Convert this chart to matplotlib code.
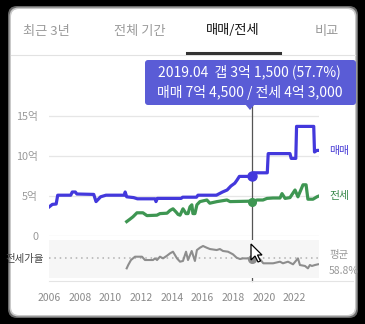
import matplotlib.pyplot as plt
from matplotlib.patches import FancyBboxPatch, Polygon
from matplotlib.lines import Line2D
from matplotlib.transforms import IdentityTransform

plt.rcParams['font.family'] = ['Noto Sans CJK KR', 'DejaVu Sans']

# 매매가 (억)
sale_t = [2006.0, 2006.2, 2006.45, 2006.55, 2007.4, 2007.5, 2007.7, 2007.8, 2008.9, 2009.05,
          2009.35, 2009.7, 2010.9, 2010.95, 2011.05, 2011.5, 2011.75, 2012.9, 2012.96, 2013.05,
          2014.6, 2014.7, 2015.6, 2015.7, 2016.9, 2017.3, 2017.6, 2017.85, 2018.1, 2018.25,
          2018.4, 2019.25, 2019.35, 2020.22, 2020.28, 2021.7, 2021.78, 2022.08, 2022.13, 2023.25,
          2023.3, 2023.45, 2023.58]
sale_v = [3.65, 3.95, 4.0, 5.1, 5.1, 5.5, 5.5, 5.25, 5.2, 4.3,
          4.9, 5.1, 5.1, 5.5, 4.9, 4.8, 4.65, 4.65, 4.3, 4.7,
          4.7, 4.85, 4.85, 5.1, 5.1, 5.5, 5.75, 6.25, 6.6, 7.0,
          7.45, 7.45, 7.9, 7.9, 10.3, 10.3, 9.7, 9.7, 13.7, 13.7,
          10.5, 10.7, 10.7]

# 전세가 (억)
jeonse_t = [2011.05, 2011.26, 2011.46, 2011.72, 2012.11, 2012.37, 2013.02, 2013.22, 2013.68, 2013.88,
            2014.07, 2014.27, 2014.4, 2014.53, 2014.72, 2014.92, 2015.05, 2015.18, 2015.3, 2015.37,
            2015.5, 2015.63, 2015.83, 2016.28, 2016.47, 2016.94, 2017.59, 2017.79, 2019.09, 2019.25,
            2019.55, 2019.94, 2020.2, 2020.59, 2021.05, 2021.18, 2021.38, 2021.7, 2022.03, 2022.22,
            2022.55, 2022.75, 2022.87, 2023.2, 2023.46, 2023.59]
jeonse_v = [1.8, 2.1, 2.4, 2.9, 2.9, 2.55, 2.6, 2.8, 2.85, 3.2,
            3.4, 3.0, 2.7, 2.6, 3.4, 2.8, 2.8, 3.65, 3.9, 2.8,
            2.8, 3.9, 4.3, 4.5, 4.1, 4.3, 4.5, 4.3, 4.35, 4.3,
            4.5, 4.5, 4.7, 4.75, 4.75, 5.3, 4.7, 4.8, 5.75, 4.9,
            6.4, 6.4, 4.6, 4.6, 4.9, 5.0]

# 전세가율 (%)
ratio_t = [2011.05, 2011.15, 2011.33, 2011.59, 2012.05, 2012.24, 2012.77, 2012.9, 2013.03, 2013.22,
           2013.42, 2013.68, 2013.88, 2014.07, 2014.33, 2014.53, 2014.72, 2014.92, 2015.05, 2015.29,
           2015.5, 2015.63, 2015.83, 2016.03, 2016.27, 2016.48, 2016.92, 2017.13, 2017.33, 2017.66,
           2017.98, 2018.22, 2018.44, 2018.64, 2019.25, 2019.74, 2019.96, 2020.6, 2021.05, 2021.24,
           2021.57, 2021.9, 2022.22, 2022.35, 2022.68, 2022.87, 2023.0, 2023.13, 2023.33, 2023.53]
ratio_v = [37, 44, 54.5, 61.5, 61.5, 54.5, 54.5, 58, 54.5, 61.5,
           58, 63.6, 68.6, 72, 58, 51, 52.5, 72, 54.5, 73.5,
           52.5, 75.5, 80.4, 84, 80.4, 77.6, 75.5, 77.6, 73.5, 72,
           66.5, 59.4, 56.6, 58, 57.7, 56.6, 47.6, 47.6, 51, 47.6,
           51, 45.5, 58, 44, 42, 37, 44, 42, 44, 45.5]
ratio_avg = 58.8

cursor_t = 2019.25
cursor_label = '2019.04'
cursor_sale = 7.45
cursor_jeonse = 4.3
cursor_ratio = 57.7

tabs = ['최근 3년', '전체 기간', '매매/전세', '비교']
active_tab = 2
year_ticks = list(range(2006, 2023, 2))
price_ticks = [0, 5, 10, 15]
price_labels = ['0', '5억', '10억', '15억']

BLUE = '#4338dc'
GREEN = '#3e9652'
GRAY = '#8d8d8d'

W, H = 365, 324
PX = IdentityTransform()


def fx(x):
    return x / W


def fy(y):
    return 1 - y / H


def money(v):
    eok = int(v)
    man = int(round((v - eok) * 10000))
    return f'{eok}억 {man:,}' if man else f'{eok}억'


fig = plt.figure(figsize=(W / 100, H / 100), dpi=100, facecolor='black')

# card background
for pad, col in [(3, '#6a6a6a'), (1.5, '#c9c9c9')]:
    fig.patches.append(FancyBboxPatch((11 - pad, 9 - pad), 344 + 2 * pad, 306 + 2 * pad,
                                      boxstyle='round,pad=0,rounding_size=9',
                                      transform=PX, facecolor=col, edgecolor='none', zorder=-3))
fig.patches.append(FancyBboxPatch((11, 9), 344, 306, boxstyle='round,pad=0,rounding_size=8',
                                  transform=PX, facecolor='white', edgecolor='none', zorder=-2))

# tabs
tab_x = [46, 140, 233, 327]
for i, (t, x) in enumerate(zip(tabs, tab_x)):
    fig.text(x, H - 31, t, transform=PX, ha='center', va='center', fontsize=9.5,
             color='#111111' if i == active_tab else '#9a9a9a')
fig.lines.append(Line2D([11, 355], [H - 55, H - 55], transform=PX, color='#e2e2e2', lw=0.8))
fig.lines.append(Line2D([187, 280], [H - 53, H - 53], transform=PX, color='#333333', lw=2.2))

x0, x1 = 2005.95, 2023.6
left, width = fx(48.5), 270.6 / W

# price chart
ax = fig.add_axes([left, fy(236), width, 136 / H])
ax.set_facecolor('none')
ax.set_xlim(x0, x1)
ax.set_ylim(0, 17)
ax.plot(sale_t, sale_v, color=BLUE, lw=2.3, solid_joinstyle='round', zorder=3)
ax.plot(jeonse_t, jeonse_v, color=GREEN, lw=2.3, solid_joinstyle='round', zorder=3)
ax.set_yticks(price_ticks, price_labels)
ax.set_xticks([])
ax.tick_params(axis='y', length=0, pad=7.5, labelsize=7.8, labelcolor='#9a9a9a')
ax.grid(axis='y', color='#e6e6e6', lw=0.9)
ax.set_axisbelow(True)
for s in ax.spines.values():
    s.set_visible(False)
ax.axvline(cursor_t, ymin=-0.33, ymax=1.0, color='#555555', lw=0.9, clip_on=False, zorder=2)
ax.plot([cursor_t], [cursor_sale], 'o', color=BLUE, ms=6.5, zorder=4)
ax.plot([cursor_t], [cursor_jeonse], 'o', color=GREEN, ms=5.5, zorder=4)

fig.text(329, H - 151, '매매', transform=PX, ha='left', va='center', fontsize=7.8, color='#4a3fd6')
fig.text(329, H - 196, '전세', transform=PX, ha='left', va='center', fontsize=7.8, color='#3a8a4c')

# jeonse ratio strip
rax = fig.add_axes([left, fy(278), width, 38 / H])
rax.set_facecolor('#f6f6f6')
rax.set_xlim(x0, x1)
rax.set_ylim(16.7, 96.6)
rax.axhline(ratio_avg, color='#b0b0b0', ls=(0, (1, 2.5)), lw=1.1, zorder=1)
rax.plot(ratio_t, ratio_v, color=GRAY, lw=1.5, zorder=3)
rax.plot([cursor_t], [cursor_ratio], 'o', color=GRAY, ms=5.5, zorder=4)
rax.set_yticks([])
rax.set_xticks(year_ticks, [str(y) for y in year_ticks])
rax.tick_params(axis='x', length=0, pad=10.5, labelsize=7.5, labelcolor='#8a8a8a')
for s in rax.spines.values():
    s.set_visible(False)
fig.lines.append(Line2D([49, 353], [H - 281, H - 281], transform=PX, color='#e4e4e4', lw=0.8))

fig.text(44, H - 259, '전세가율', transform=PX, ha='right', va='center', fontsize=7.5, color='#444444')
fig.text(329, H - 255, '평균', transform=PX, ha='left', va='center', fontsize=7.5, color='#9a9a9a')
fig.text(329, H - 271, f'{ratio_avg}%', transform=PX, ha='left', va='center', fontsize=7.5,
         color='#9a9a9a')

# tooltip
TIP = '#5a5cd6'
fig.patches.append(FancyBboxPatch((145, H - 105), 211, 45, boxstyle='round,pad=0,rounding_size=3',
                                  transform=PX, facecolor=TIP, edgecolor='none', zorder=5))
fig.patches.append(Polygon([[245, H - 104], [255, H - 104], [250, H - 110]], closed=True,
                           transform=PX, facecolor=TIP, edgecolor='none', zorder=5))
gap = cursor_sale - cursor_jeonse
fig.text(249, H - 72, f'{cursor_label}  갭 {money(gap)} ({cursor_ratio}%)', transform=PX,
         ha='center', va='center', fontsize=10, color='white', zorder=6)
fig.text(250, H - 93, f'매매 {money(cursor_sale)} / 전세 {money(cursor_jeonse)}', transform=PX,
         ha='center', va='center', fontsize=10, color='white', zorder=6)

# mouse pointer
tip_x, tip_y = 251, 244
arrow = [(0, 0), (0, 16), (4, 12), (7, 18), (9.5, 17), (6.5, 11), (11, 11)]
fig.patches.append(Polygon([[tip_x + dx, H - (tip_y + dy)] for dx, dy in arrow], closed=True,
                           transform=PX, facecolor='white', edgecolor='black', lw=0.9, zorder=7))

fig.savefig('out.png', dpi=100, facecolor='black')
